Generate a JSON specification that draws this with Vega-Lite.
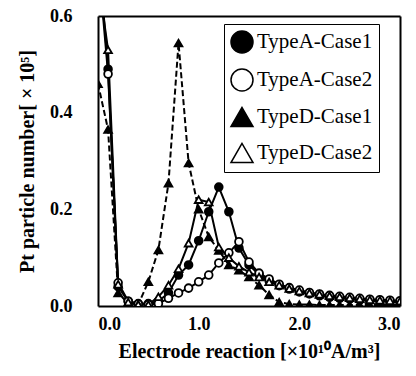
{
  "$schema": "https://vega.github.io/schema/vega-lite/v6.json",
  "width": 302,
  "height": 290,
  "autosize": "none",
  "padding": {"left": 98, "top": 16, "right": 16, "bottom": 70},
  "background": "white",
  "config": {
    "font": "Liberation Serif",
    "view": {"stroke": null},
    "axis": {"labelColor": "black", "titleColor": "black", "grid": false, "domain": true, "domainColor": "black", "domainWidth": 2, "ticks": false}
  },
  "datasets": {
    "d": [
      {"series": "TypeA-Case1", "x": 0.0, "y": 0.75},
      {"series": "TypeA-Case1", "x": 0.1, "y": 0.49},
      {"series": "TypeA-Case1", "x": 0.2, "y": 0.04},
      {"series": "TypeA-Case1", "x": 0.3, "y": 0.01},
      {"series": "TypeA-Case1", "x": 0.4, "y": 0.005},
      {"series": "TypeA-Case1", "x": 0.5, "y": 0.005},
      {"series": "TypeA-Case1", "x": 0.6, "y": 0.01},
      {"series": "TypeA-Case1", "x": 0.7, "y": 0.027},
      {"series": "TypeA-Case1", "x": 0.8, "y": 0.064},
      {"series": "TypeA-Case1", "x": 0.9, "y": 0.085},
      {"series": "TypeA-Case1", "x": 1.0, "y": 0.135},
      {"series": "TypeA-Case1", "x": 1.1, "y": 0.195},
      {"series": "TypeA-Case1", "x": 1.2, "y": 0.246},
      {"series": "TypeA-Case1", "x": 1.3, "y": 0.195},
      {"series": "TypeA-Case1", "x": 1.4, "y": 0.12},
      {"series": "TypeA-Case1", "x": 1.5, "y": 0.085},
      {"series": "TypeA-Case1", "x": 1.6, "y": 0.065},
      {"series": "TypeA-Case1", "x": 1.7, "y": 0.052},
      {"series": "TypeA-Case1", "x": 1.8, "y": 0.042},
      {"series": "TypeA-Case1", "x": 1.9, "y": 0.035},
      {"series": "TypeA-Case1", "x": 2.0, "y": 0.029},
      {"series": "TypeA-Case1", "x": 2.1, "y": 0.025},
      {"series": "TypeA-Case1", "x": 2.2, "y": 0.021},
      {"series": "TypeA-Case1", "x": 2.3, "y": 0.018},
      {"series": "TypeA-Case1", "x": 2.4, "y": 0.016},
      {"series": "TypeA-Case1", "x": 2.5, "y": 0.014},
      {"series": "TypeA-Case1", "x": 2.6, "y": 0.012},
      {"series": "TypeA-Case1", "x": 2.7, "y": 0.011},
      {"series": "TypeA-Case1", "x": 2.8, "y": 0.01},
      {"series": "TypeA-Case1", "x": 2.9, "y": 0.009},
      {"series": "TypeA-Case1", "x": 3.0, "y": 0.008},
      {"series": "TypeA-Case2", "x": 0.0, "y": 0.72},
      {"series": "TypeA-Case2", "x": 0.1, "y": 0.48},
      {"series": "TypeA-Case2", "x": 0.2, "y": 0.048},
      {"series": "TypeA-Case2", "x": 0.3, "y": 0.01},
      {"series": "TypeA-Case2", "x": 0.4, "y": 0.004},
      {"series": "TypeA-Case2", "x": 0.5, "y": 0.003},
      {"series": "TypeA-Case2", "x": 0.6, "y": 0.005},
      {"series": "TypeA-Case2", "x": 0.7, "y": 0.016},
      {"series": "TypeA-Case2", "x": 0.8, "y": 0.027},
      {"series": "TypeA-Case2", "x": 0.9, "y": 0.037},
      {"series": "TypeA-Case2", "x": 1.0, "y": 0.05},
      {"series": "TypeA-Case2", "x": 1.1, "y": 0.064},
      {"series": "TypeA-Case2", "x": 1.2, "y": 0.089},
      {"series": "TypeA-Case2", "x": 1.3, "y": 0.11},
      {"series": "TypeA-Case2", "x": 1.4, "y": 0.133},
      {"series": "TypeA-Case2", "x": 1.5, "y": 0.091},
      {"series": "TypeA-Case2", "x": 1.6, "y": 0.068},
      {"series": "TypeA-Case2", "x": 1.7, "y": 0.056},
      {"series": "TypeA-Case2", "x": 1.8, "y": 0.045},
      {"series": "TypeA-Case2", "x": 1.9, "y": 0.038},
      {"series": "TypeA-Case2", "x": 2.0, "y": 0.033},
      {"series": "TypeA-Case2", "x": 2.1, "y": 0.028},
      {"series": "TypeA-Case2", "x": 2.2, "y": 0.025},
      {"series": "TypeA-Case2", "x": 2.3, "y": 0.022},
      {"series": "TypeA-Case2", "x": 2.4, "y": 0.02},
      {"series": "TypeA-Case2", "x": 2.5, "y": 0.018},
      {"series": "TypeA-Case2", "x": 2.6, "y": 0.016},
      {"series": "TypeA-Case2", "x": 2.7, "y": 0.014},
      {"series": "TypeA-Case2", "x": 2.8, "y": 0.013},
      {"series": "TypeA-Case2", "x": 2.9, "y": 0.012},
      {"series": "TypeA-Case2", "x": 3.0, "y": 0.011},
      {"series": "TypeD-Case1", "x": 0.0, "y": 0.46},
      {"series": "TypeD-Case1", "x": 0.1, "y": 0.365},
      {"series": "TypeD-Case1", "x": 0.2, "y": 0.027},
      {"series": "TypeD-Case1", "x": 0.3, "y": 0.005},
      {"series": "TypeD-Case1", "x": 0.4, "y": 0.003},
      {"series": "TypeD-Case1", "x": 0.5, "y": 0.05},
      {"series": "TypeD-Case1", "x": 0.6, "y": 0.116},
      {"series": "TypeD-Case1", "x": 0.7, "y": 0.254},
      {"series": "TypeD-Case1", "x": 0.8, "y": 0.544},
      {"series": "TypeD-Case1", "x": 0.9, "y": 0.296},
      {"series": "TypeD-Case1", "x": 1.0, "y": 0.2},
      {"series": "TypeD-Case1", "x": 1.1, "y": 0.143},
      {"series": "TypeD-Case1", "x": 1.2, "y": 0.115},
      {"series": "TypeD-Case1", "x": 1.3, "y": 0.085},
      {"series": "TypeD-Case1", "x": 1.4, "y": 0.074},
      {"series": "TypeD-Case1", "x": 1.5, "y": 0.06},
      {"series": "TypeD-Case1", "x": 1.6, "y": 0.043},
      {"series": "TypeD-Case1", "x": 1.7, "y": 0.023},
      {"series": "TypeD-Case1", "x": 1.8, "y": 0.008},
      {"series": "TypeD-Case1", "x": 1.9, "y": 0.004},
      {"series": "TypeD-Case1", "x": 2.0, "y": 0.003},
      {"series": "TypeD-Case1", "x": 2.1, "y": 0.003},
      {"series": "TypeD-Case1", "x": 2.2, "y": 0.002},
      {"series": "TypeD-Case1", "x": 2.3, "y": 0.002},
      {"series": "TypeD-Case1", "x": 2.4, "y": 0.002},
      {"series": "TypeD-Case1", "x": 2.5, "y": 0.002},
      {"series": "TypeD-Case1", "x": 2.6, "y": 0.002},
      {"series": "TypeD-Case1", "x": 2.7, "y": 0.002},
      {"series": "TypeD-Case1", "x": 2.8, "y": 0.002},
      {"series": "TypeD-Case1", "x": 2.9, "y": 0.002},
      {"series": "TypeD-Case1", "x": 3.0, "y": 0.002},
      {"series": "TypeD-Case2", "x": 0.0, "y": 0.68},
      {"series": "TypeD-Case2", "x": 0.1, "y": 0.53},
      {"series": "TypeD-Case2", "x": 0.2, "y": 0.045},
      {"series": "TypeD-Case2", "x": 0.3, "y": 0.008},
      {"series": "TypeD-Case2", "x": 0.4, "y": 0.003},
      {"series": "TypeD-Case2", "x": 0.5, "y": 0.003},
      {"series": "TypeD-Case2", "x": 0.6, "y": 0.019},
      {"series": "TypeD-Case2", "x": 0.7, "y": 0.043},
      {"series": "TypeD-Case2", "x": 0.8, "y": 0.077},
      {"series": "TypeD-Case2", "x": 0.9, "y": 0.13},
      {"series": "TypeD-Case2", "x": 1.0, "y": 0.22},
      {"series": "TypeD-Case2", "x": 1.1, "y": 0.215},
      {"series": "TypeD-Case2", "x": 1.2, "y": 0.122},
      {"series": "TypeD-Case2", "x": 1.3, "y": 0.1},
      {"series": "TypeD-Case2", "x": 1.4, "y": 0.082},
      {"series": "TypeD-Case2", "x": 1.5, "y": 0.07},
      {"series": "TypeD-Case2", "x": 1.6, "y": 0.06},
      {"series": "TypeD-Case2", "x": 1.7, "y": 0.05},
      {"series": "TypeD-Case2", "x": 1.8, "y": 0.043},
      {"series": "TypeD-Case2", "x": 1.9, "y": 0.036},
      {"series": "TypeD-Case2", "x": 2.0, "y": 0.031},
      {"series": "TypeD-Case2", "x": 2.1, "y": 0.027},
      {"series": "TypeD-Case2", "x": 2.2, "y": 0.024},
      {"series": "TypeD-Case2", "x": 2.3, "y": 0.021},
      {"series": "TypeD-Case2", "x": 2.4, "y": 0.019},
      {"series": "TypeD-Case2", "x": 2.5, "y": 0.017},
      {"series": "TypeD-Case2", "x": 2.6, "y": 0.015},
      {"series": "TypeD-Case2", "x": 2.7, "y": 0.013},
      {"series": "TypeD-Case2", "x": 2.8, "y": 0.012},
      {"series": "TypeD-Case2", "x": 2.9, "y": 0.011},
      {"series": "TypeD-Case2", "x": 3.0, "y": 0.01}
    ]
  },
  "data": {"name": "d"},
  "resolve": {"axis": {"x": "independent", "y": "independent"}},
  "layer": [
    {
      "transform": [{"filter": "datum.series !== 'TypeD-Case1'"}],
      "mark": {"type": "line", "color": "black", "strokeWidth": 2, "clip": true},
      "encoding": {
        "x": {
          "field": "x", "type": "quantitative",
          "scale": {"domain": [0, 3], "nice": false, "zero": false},
          "axis": {
            "values": [0, 1, 2, 3], "format": ".1f", "labelFlush": true,
            "labelFontSize": 18, "labelFontWeight": "bold", "labelFont": "Liberation Serif",
            "labelPadding": 9,
            "title": "Electrode reaction [×10¹⁰A/m³]",
            "titleFontSize": 20, "titleFontWeight": "bold", "titleFont": "Liberation Serif", "titlePadding": 8
          }
        },
        "y": {
          "field": "y", "type": "quantitative",
          "scale": {"domain": [0, 0.6], "nice": false},
          "axis": {
            "values": [0, 0.2, 0.4, 0.6], "format": ".1f",
            "labelFontSize": 18, "labelFontWeight": "bold", "labelFont": "Liberation Serif",
            "labelPadding": 26,
            "title": "Pt particle number[ × 10⁵]",
            "titleFontSize": 20, "titleFontWeight": "bold", "titleFont": "Liberation Serif", "titlePadding": 12
          }
        },
        "detail": {"field": "series"}
      }
    },
    {
      "transform": [{"filter": "datum.series === 'TypeD-Case1'"}],
      "mark": {"type": "line", "color": "black", "strokeWidth": 2, "strokeDash": [6, 3], "clip": true},
      "encoding": {
        "x": {
          "field": "x", "type": "quantitative",
          "axis": {"orient": "top", "labels": false, "title": null, "values": [0, 1, 2, 3]}
        },
        "y": {
          "field": "y", "type": "quantitative",
          "axis": {"orient": "right", "labels": false, "title": null, "values": [0, 0.2, 0.4, 0.6]}
        }
      }
    },
    {
      "mark": {"type": "point", "stroke": "black", "strokeWidth": 1.8, "opacity": 1, "size": 60, "clip": true},
      "encoding": {
        "x": {"field": "x", "type": "quantitative", "axis": null},
        "y": {"field": "y", "type": "quantitative", "axis": null},
        "fill": {
          "field": "series", "type": "nominal",
          "scale": {"domain": ["TypeA-Case1", "TypeA-Case2", "TypeD-Case1", "TypeD-Case2"], "range": ["black", "white", "black", "white"]},
          "legend": {
            "title": null, "orient": "none", "legendX": 126, "legendY": 8,
            "strokeColor": "black", "fillColor": "white",
            "labelFont": "Liberation Serif", "labelFontSize": 21, "labelColor": "black",
            "symbolSize": 484, "rowPadding": 10, "padding": 6, "labelOffset": 3,
            "encode": {
              "symbols": {
                "update": {
                  "shape": {"signal": "(datum.value === 'TypeA-Case1' || datum.value === 'TypeA-Case2') ? 'M-1,0L-0.38,0M0.38,0L1,0M0.38,0L0.351,0.146L0.269,0.269L0.146,0.351L0,0.38L-0.146,0.351L-0.269,0.269L-0.351,0.146L-0.38,0L-0.351,-0.146L-0.269,-0.269L-0.146,-0.351L0,-0.38L0.146,-0.351L0.269,-0.269L0.351,-0.146Z' : (datum.value === 'TypeD-Case1' ? 'M-0.95,0L-0.6,0M0.55,0L0.72,0M0,-0.42L0.44,0.32L-0.44,0.32Z' : 'M-1,0L-0.26,0M0.26,0L1,0M0,-0.42L0.44,0.32L-0.44,0.32Z')"},
                  "fill": {"signal": "(datum.value === 'TypeA-Case1' || datum.value === 'TypeD-Case1') ? 'black' : 'white'"},
                  "stroke": {"value": "black"},
                  "strokeWidth": {"value": 2},
                  "opacity": {"value": 1}
                }
              }
            }
          }
        },
        "shape": {
          "field": "series", "type": "nominal",
          "scale": {"domain": ["TypeA-Case1", "TypeA-Case2", "TypeD-Case1", "TypeD-Case2"], "range": ["circle", "circle", "triangle-up", "triangle-up"]},
          "legend": {
            "title": null, "orient": "none", "legendX": 126, "legendY": 8,
            "strokeColor": "black", "fillColor": "white",
            "labelFont": "Liberation Serif", "labelFontSize": 21, "labelColor": "black",
            "symbolSize": 484, "rowPadding": 10, "padding": 6, "labelOffset": 3,
            "encode": {
              "symbols": {
                "update": {
                  "shape": {"signal": "(datum.value === 'TypeA-Case1' || datum.value === 'TypeA-Case2') ? 'M-1,0L-0.38,0M0.38,0L1,0M0.38,0L0.351,0.146L0.269,0.269L0.146,0.351L0,0.38L-0.146,0.351L-0.269,0.269L-0.351,0.146L-0.38,0L-0.351,-0.146L-0.269,-0.269L-0.146,-0.351L0,-0.38L0.146,-0.351L0.269,-0.269L0.351,-0.146Z' : (datum.value === 'TypeD-Case1' ? 'M-0.95,0L-0.6,0M0.55,0L0.72,0M0,-0.42L0.44,0.32L-0.44,0.32Z' : 'M-1,0L-0.26,0M0.26,0L1,0M0,-0.42L0.44,0.32L-0.44,0.32Z')"},
                  "fill": {"signal": "(datum.value === 'TypeA-Case1' || datum.value === 'TypeD-Case1') ? 'black' : 'white'"},
                  "stroke": {"value": "black"},
                  "strokeWidth": {"value": 2},
                  "opacity": {"value": 1}
                }
              }
            }
          }
        }
      }
    }
  ]
}
